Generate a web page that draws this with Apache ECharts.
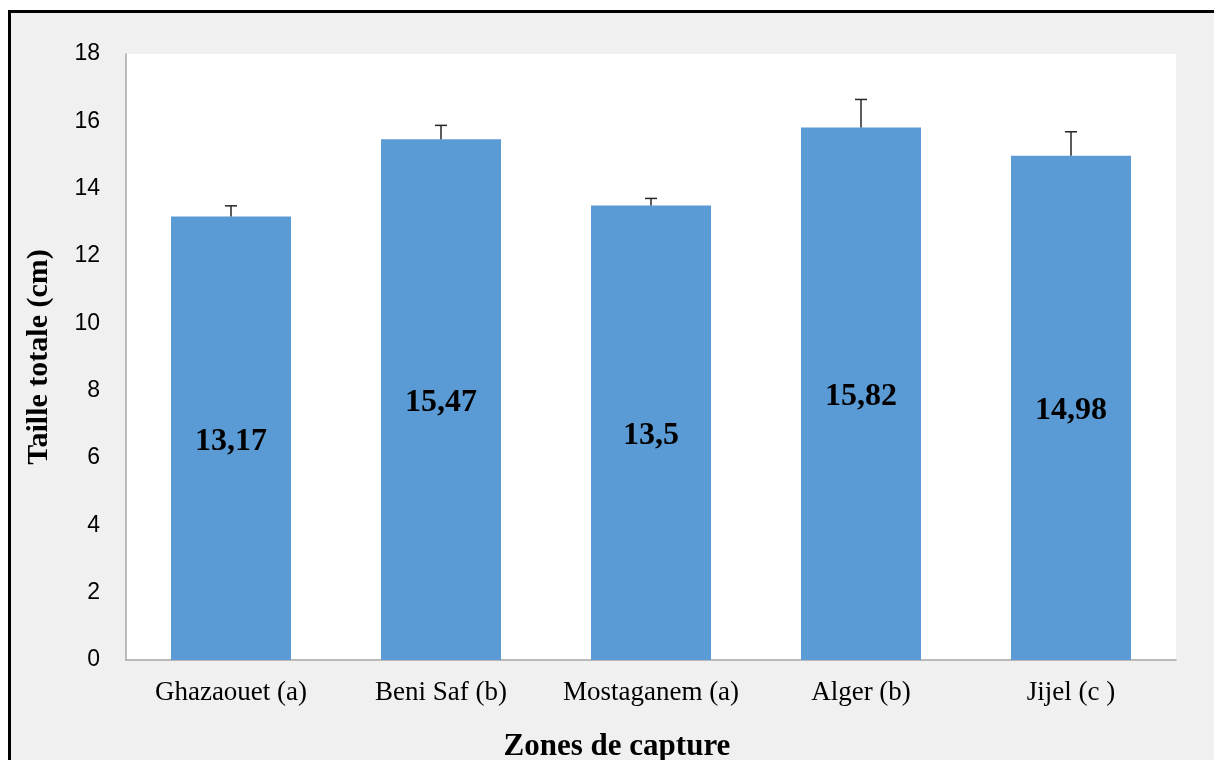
<!DOCTYPE html>
<html>
<head>
<meta charset="utf-8">
<script src="https://cdn.jsdelivr.net/npm/echarts@6/dist/echarts.min.js"></script>
<style>
  body { margin: 0; background: #fff; }
  #frame { position: absolute; left: 8px; top: 10px; width: 1220px; height: 760px;
           background: #f0f0f0; border-left: 3px solid #000; border-top: 3px solid #000; }
  #main { position: absolute; left: 0; top: 0; width: 1214px; height: 760px; }
</style>
</head>
<body>
<div id="frame"></div>
<div id="main"></div>
<script>
var zones = ['Ghazaouet (a)', 'Beni Saf (b)', 'Mostaganem (a)', 'Alger (b)', 'Jijel (c )'];
var taille = [13.17, 15.47, 13.5, 15.82, 14.98];
var ecart = [0.32, 0.41, 0.21, 0.83, 0.71];
var yTicks = [0, 18, 2];

var myChart = echarts.init(document.getElementById('main'));

var errData = taille.map(function (v, i) { return [i, v, ecart[i]]; });

option = {
    backgroundColor: 'transparent',
    grid: {
        left: 126, right: 38, top: 54, bottom: 100,
        outerBoundsMode: 'none', containLabel: false,
        show: true, backgroundColor: '#fff', borderWidth: 0
    },
    xAxis: {
        type: 'category',
        data: zones,
        name: 'Zones de capture',
        nameLocation: 'middle',
        nameGap: 71,
        nameTextStyle: {
            fontFamily: 'Liberation Serif', fontWeight: 'bold', fontSize: 31, color: '#000',
            padding: [0, 68, 0, 0]
        },
        axisLine: { lineStyle: { color: '#a6a6a6', width: 1.5 } },
        axisTick: { show: false },
        axisLabel: { interval: 0, fontFamily: 'Liberation Serif', fontSize: 27, color: '#000', margin: 19 }
    },
    yAxis: {
        type: 'value',
        min: yTicks[0], max: yTicks[1], interval: yTicks[2],
        name: 'Taille totale (cm)',
        nameLocation: 'middle',
        nameGap: 72,
        nameTextStyle: { fontFamily: 'Liberation Serif', fontWeight: 'bold', fontSize: 30, color: '#000' },
        axisLine: { show: true, lineStyle: { color: '#a6a6a6', width: 1.5 } },
        axisTick: { show: false },
        splitLine: { show: false },
        axisLabel: { fontFamily: 'Liberation Sans', fontSize: 23, color: '#000', margin: 26 }
    },
    series: [{
        type: 'bar',
        data: taille,
        barWidth: 120,
        itemStyle: { color: '#5b9bd5' },
        label: {
            show: true, position: 'inside', offset: [0, 3],
            fontFamily: 'Liberation Serif', fontWeight: 'bold', fontSize: 32, color: '#000',
            formatter: function (p) { return String(p.value).replace('.', ','); }
        },
        animation: false
    }, {
        type: 'custom',
        data: errData,
        renderItem: function (params, api) {
            var x = api.value(0);
            var base = api.coord([x, api.value(1)]);
            var top = api.coord([x, api.value(1) + api.value(2)]);
            var style = { stroke: '#262626', lineWidth: 1.5 };
            return {
                type: 'group',
                children: [
                    { type: 'line', shape: { x1: base[0], y1: base[1], x2: top[0], y2: top[1] }, style: style },
                    { type: 'line', shape: { x1: top[0] - 6, y1: top[1], x2: top[0] + 6, y2: top[1] }, style: style }
                ]
            };
        },
        z: 5,
        animation: false
    }]
};

myChart.setOption(option);
</script>
</body>
</html>
